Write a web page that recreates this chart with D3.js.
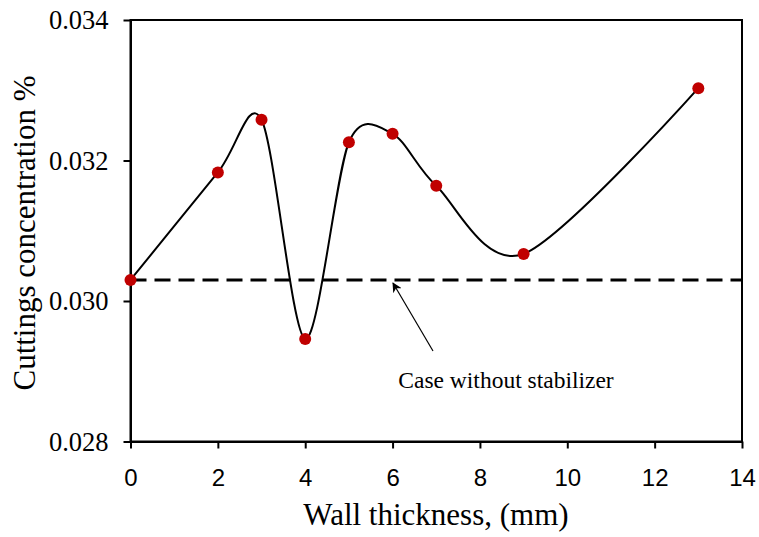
<!DOCTYPE html>
<html><head><meta charset="utf-8">
<script src="https://cdn.jsdelivr.net/npm/d3@7"></script>
<style>body{margin:0;background:#fff}</style>
</head><body>
<svg id="c" width="759" height="537"></svg>
<script>
const wallThickness = [0, 2, 3, 4, 5, 6, 7, 9, 13];
const concentration = [0.0303, 0.03183, 0.03258, 0.02946, 0.03226, 0.03238, 0.03164, 0.03067, 0.03303];
const baselineValue = 0.0303;
const xTicks = [0, 2, 4, 6, 8, 10, 12, 14];
const yTicks = [0.028, 0.030, 0.032, 0.034];
const xTitle = "Wall thickness, (mm)";
const yTitle = "Cuttings concentration %";
const annotation = "Case without stabilizer";

const SERIF = "'Liberation Serif'";
const SANS = "'Liberation Sans'";

const svg = d3.select("#c");
const m = {l:130.5, r:742, t:20, b:441.5};
const x = d3.scaleLinear().domain([0,14]).range([m.l, m.r]);
const y = d3.scaleLinear().domain([0.028,0.034]).range([m.b, m.t]);

svg.append("rect").attr("x",m.l).attr("y",m.t).attr("width",m.r-m.l).attr("height",m.b-m.t)
  .attr("fill","none").attr("stroke","#000").attr("stroke-width",2);

const xa = svg.append("g").attr("transform",`translate(0,${m.b})`)
  .call(d3.axisBottom(x).tickValues(xTicks).tickSize(7).tickSizeOuter(0).tickFormat(d3.format("d")));
xa.select(".domain").attr("stroke-width",2);
xa.selectAll(".tick line").attr("stroke-width",2);
xa.selectAll("text").style("font-family",SANS).style("font-size","24px").attr("dy","1.45em").attr("fill","#000");

const ya = svg.append("g").attr("transform",`translate(${m.l},0)`)
  .call(d3.axisLeft(y).tickValues(yTicks).tickSize(7).tickSizeOuter(0).tickFormat(d3.format(".3f")));
ya.select(".domain").attr("stroke-width",2);
ya.selectAll(".tick line").attr("stroke-width",2);
ya.selectAll("text").style("font-family",SERIF).style("font-size","26.5px").attr("x",-22).attr("dy","0.33em").attr("fill","#000");

svg.append("line").attr("x1",x(0)).attr("x2",x(14)).attr("y1",y(baselineValue)).attr("y2",y(baselineValue))
  .attr("stroke","#000").attr("stroke-width",3).attr("stroke-dasharray","16,8");

const pts = wallThickness.map((d,i)=>[d, concentration[i]]);
const line = d3.line().x(d=>x(d[0])).y(d=>y(d[1])).curve(d3.curveCardinal.tension(0.1));
svg.append("path").attr("d",line(pts)).attr("fill","none").attr("stroke","#000").attr("stroke-width",2);

svg.selectAll("circle.pt").data(pts).join("circle").attr("class","pt")
  .attr("cx",d=>x(d[0])).attr("cy",d=>y(d[1])).attr("r",6).attr("fill","#c00000");

svg.append("defs").append("marker").attr("id","ah").attr("viewBox","0 0 10 10").attr("refX",9).attr("refY",5)
  .attr("markerWidth",10).attr("markerHeight",10).attr("markerUnits","userSpaceOnUse").attr("orient","auto")
  .append("path").attr("d","M0,0 L10,5 L0,10 L3,5 z").attr("fill","#000");
svg.append("line").attr("x1",433).attr("y1",351).attr("x2",393).attr("y2",283)
  .attr("stroke","#000").attr("stroke-width",1.2).attr("marker-end","url(#ah)");
svg.append("text").style("font-family",SERIF).style("font-size","23.5px").attr("x",506).attr("y",388).attr("text-anchor","middle")
  .text(annotation);

svg.append("text").style("font-family",SERIF).style("font-size","31px").attr("x",436).attr("y",525).attr("text-anchor","middle")
  .text(xTitle);
svg.append("text").style("font-family",SERIF).style("font-size","31px").attr("transform",`translate(35,233) rotate(-90)`).attr("text-anchor","middle")
  .text(yTitle);
</script>
</body></html>
